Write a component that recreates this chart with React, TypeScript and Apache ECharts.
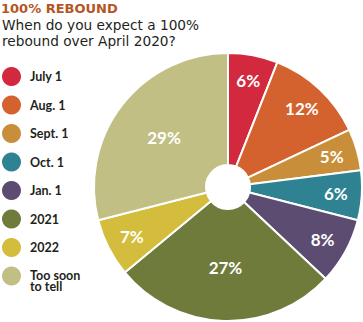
import React, { useEffect, useRef } from "react";
import * as echarts from "echarts";

const categories = ["July 1", "Aug. 1", "Sept. 1", "Oct. 1", "Jan. 1", "2021", "2022", "Too soon\nto tell"];
const values = [6, 12, 5, 6, 8, 27, 7, 29];
const colors = ["#d2293f", "#d4622f", "#c98e39", "#2f8291", "#5d4c72", "#6e7b3a", "#d4bd3d", "#c1bf84"];
const titleText = "100% REBOUND";
const subtitleLines = ["When do you expect a 100%", "rebound over April 2020?"];

const FONT = "Lato";
const HEAD_FONT = "DejaVu Sans";

export default function App() {
  const ref = useRef<HTMLDivElement>(null);
  useEffect(() => {
    if (!ref.current) return;
    const chart = echarts.init(ref.current, undefined, { renderer: "svg" });
    const labelStyle = {
      color: "#ffffff",
      fontFamily: FONT,
      fontWeight: "bold" as const,
      fontSize: 17,
      formatter: "{c}%",
    };
    const mainData = categories.map((name, i) => ({
      name,
      value: values[i],
      itemStyle: { color: colors[i] },
      label: { show: values[i] >= 20 },
    }));
    const outerLabelData = categories.map((name, i) => ({
      name,
      value: values[i],
      label: { show: values[i] < 20 },
    }));
    const legendRich = {
      first: { fontFamily: FONT, fontWeight: "bold", fontSize: 12.5, lineHeight: 21, color: "#231f20" },
      rest: { fontFamily: FONT, fontWeight: "bold", fontSize: 12.5, lineHeight: 1, color: "#231f20" },
    };
    chart.setOption({
      animation: false,
      title: [
        {
          left: 1,
          top: 1,
          padding: 0,
          text: titleText,
          textStyle: { fontFamily: HEAD_FONT, fontWeight: "bold", fontSize: 13, lineHeight: 15, color: "#b5561f" },
        },
        ...subtitleLines.map((t, i) => ({
          left: 2,
          top: 16.5 + i * 16,
          padding: 0,
          text: t,
          textStyle: { fontFamily: HEAD_FONT, fontWeight: "normal", fontSize: 13.7, lineHeight: 16, color: "#231f20" },
        })),
      ],
      legend: {
        orient: "vertical",
        left: 2,
        top: 67,
        padding: 0,
        icon: "circle",
        itemWidth: 19,
        itemHeight: 19,
        itemGap: 9.5,
        data: categories,
        itemStyle: { borderWidth: 0 },
        formatter: (name: string) => {
          const lines = name.split("\n");
          if (lines.length === 1) return name;
          return lines.map((l, i) => (i === 0 ? `{first|${l}}` : `{rest|${l}}`)).join("\n");
        },
        textStyle: {
          fontFamily: FONT,
          fontWeight: "bold",
          fontSize: 12.5,
          color: "#231f20",
          padding: [0, 0, 0, 4],
          rich: legendRich,
        },
      },
      series: [
        {
          type: "pie",
          center: [228, 187],
          radius: [22, 134],
          startAngle: 90,
          clockwise: true,
          avoidLabelOverlap: false,
          itemStyle: { borderColor: "#ffffff", borderWidth: 2 },
          label: { position: "inside", ...labelStyle },
          labelLine: { show: false },
          emphasis: { disabled: true },
          data: mainData,
        },
        {
          type: "pie",
          center: [228, 187],
          radius: [76, 134],
          startAngle: 90,
          clockwise: true,
          silent: true,
          avoidLabelOverlap: false,
          itemStyle: { color: "rgba(0,0,0,0)", borderWidth: 0 },
          label: { position: "inside", ...labelStyle },
          labelLine: { show: false },
          emphasis: { disabled: true },
          data: outerLabelData,
        },
      ],
    });
    return () => chart.dispose();
  }, []);
  return (
    <div
      ref={ref}
      style={{ position: "fixed", left: 0, top: 0, width: 363, height: 322, background: "#ffffff" }}
    />
  );
}
